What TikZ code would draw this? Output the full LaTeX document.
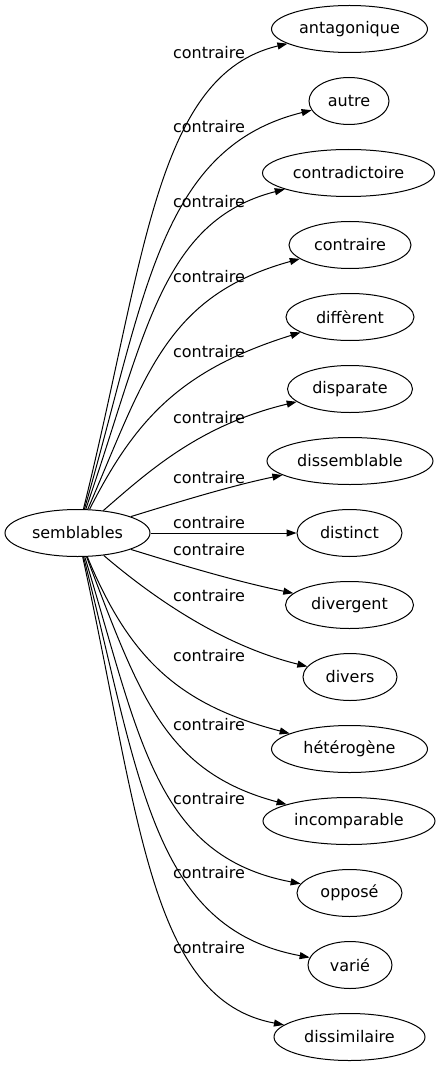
\documentclass[tikz,border=0pt]{standalone}
\usepackage{fontspec}
\setmainfont{DejaVu Sans}
\usetikzlibrary{shapes.geometric,arrows.meta}
\begin{document}
\begin{tikzpicture}[x=1pt,y=-1pt,
  every node/.style={font=\fontsize{16}{19}\selectfont},
  term/.style={draw,ellipse,inner sep=0pt,minimum height=47pt,line width=1pt},
  lbl/.style={inner sep=0pt},
  rel/.style={draw,line width=1pt,-{Triangle[length=10pt,width=7pt]}}]
\useasboundingbox (0,0) rectangle (441,1067);
% nodes
\node[term,minimum width=145pt] (s) at (77.5,533) {semblables};
\node[term,minimum width=156pt] (t1) at (349.5,29) {antagonique};
\node[term,minimum width=80pt] (t2) at (349,101) {autre};
\node[term,minimum width=172pt] (t3) at (348.5,173) {contradictoire};
\node[term,minimum width=122pt] (t4) at (350,245) {contraire};
\node[term,minimum width=128pt] (t5) at (350,317) {diffèrent};
\node[term,minimum width=125pt] (t6) at (350,389) {disparate};
\node[term,minimum width=166pt] (t7) at (350,461) {dissemblable};
\node[term,minimum width=105pt] (t8) at (349.5,533) {distinct};
\node[term,minimum width=128pt] (t9) at (349.5,605) {divergent};
\node[term,minimum width=94pt] (t10) at (350,677) {divers};
\node[term,minimum width=156pt] (t11) at (349.5,749) {hétérogène};
\node[term,minimum width=172pt] (t12) at (349,821) {incomparable};
\node[term,minimum width=105pt] (t13) at (349.5,893) {opposé};
\node[term,minimum width=84pt] (t14) at (350,965) {varié};
\node[term,minimum width=151pt] (t15) at (349.5,1037) {dissimilaire};
% edges
\draw[rel] (s) .. controls (145,261) and (155,75) .. (t1);
\draw[rel] (s) .. controls (145,300) and (158,148) .. (t2);
\draw[rel] (s) .. controls (145,338) and (160,221) .. (t3);
\draw[rel] (s) .. controls (145,377) and (165,296) .. (t4);
\draw[rel] (s) .. controls (135,420) and (180,370) .. (t5);
\draw[rel] (s) .. controls (150,470) and (200,425) .. (t6);
\draw[rel] (s) .. controls (175,503) and (230,486) .. (t7);
\draw[rel] (s) -- (t8);
\draw[rel] (s) .. controls (175,563) and (230,580) .. (t9);
\draw[rel] (s) .. controls (150,595) and (220,645) .. (t10);
\draw[rel] (s) .. controls (130,660) and (180,705) .. (t11);
\draw[rel] (s) .. controls (140,697) and (165,772) .. (t12);
\draw[rel] (s) .. controls (140,738) and (155,856) .. (t13);
\draw[rel] (s) .. controls (140,779) and (152,928) .. (t14);
\draw[rel] (s) .. controls (140,820) and (150,1000) .. (t15);
% labels
\node[lbl] (l1) at (209,53) {contraire};
\node[lbl] (l2) at (209,127) {contraire};
\node[lbl] (l3) at (209,202) {contraire};
\node[lbl] (l4) at (209,277) {contraire};
\node[lbl] (l5) at (209,352) {contraire};
\node[lbl] (l6) at (209,418) {contraire};
\node[lbl] (l7) at (209,478) {contraire};
\node[lbl] (l8) at (209,523) {contraire};
\node[lbl] (l9) at (209,550) {contraire};
\node[lbl] (l10) at (209,596) {contraire};
\node[lbl] (l11) at (209,656) {contraire};
\node[lbl] (l12) at (209,725) {contraire};
\node[lbl] (l13) at (209,799) {contraire};
\node[lbl] (l14) at (209,873) {contraire};
\node[lbl] (l15) at (209,948) {contraire};
\end{tikzpicture}
\end{document}
